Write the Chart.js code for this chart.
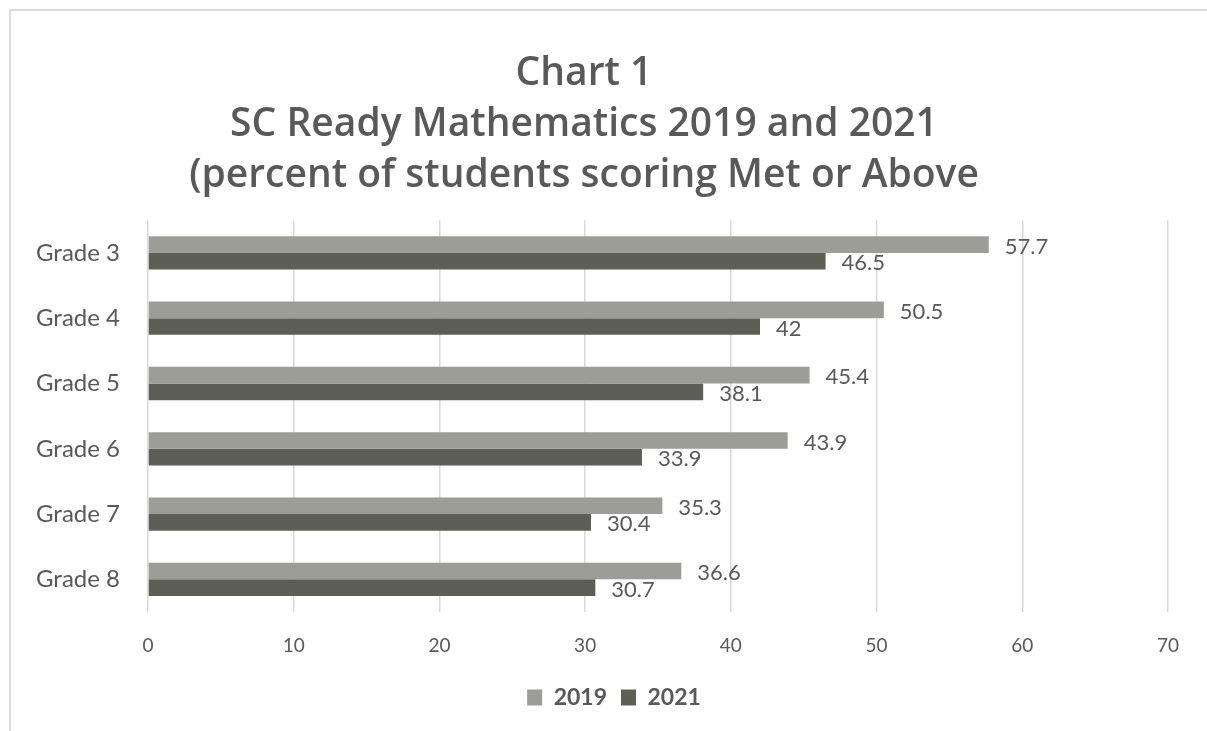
<!DOCTYPE html>
<html>
<head>
<meta charset="utf-8">
<script src="https://cdn.jsdelivr.net/npm/chart.js@4.4.1/dist/chart.umd.min.js"></script>
<style>
  html, body { margin: 0; padding: 0; background: #fff; overflow: hidden; }
  #frame {
    position: absolute; left: 9px; top: 9px; width: 1240px; height: 760px;
    border-top: 2px solid #dcdcdc; border-left: 2px solid #dcdcdc;
  }
  #wrap { position: absolute; left: 0; top: 0; width: 1207px; height: 731px; }
</style>
</head>
<body>
<div id="frame"></div>
<div id="wrap"><canvas id="gradeschart"></canvas></div>
<script>
const grades = ['Grade 3', 'Grade 4', 'Grade 5', 'Grade 6', 'Grade 7', 'Grade 8'];
const scores2019 = [57.7, 50.5, 45.4, 43.9, 35.3, 36.6];
const scores2021 = [46.5, 42, 38.1, 33.9, 30.4, 30.7];
const titleLines = ['Chart 1', 'SC Ready Mathematics 2019 and 2021', '(percent of students scoring Met or Above'];

const textGrey = '#595959';

// draw the value next to the end of each bar
const barValues = {
    id: 'barValues',
    afterDatasetsDraw(chart) {
        const ctx = chart.ctx;
        ctx.save();
        ctx.font = '22px Lato';
        ctx.fillStyle = textGrey;
        ctx.textBaseline = 'middle';
        ctx.textAlign = 'left';
        chart.data.datasets.forEach((ds, i) => {
            chart.getDatasetMeta(i).data.forEach((bar, j) => {
                ctx.fillText(String(ds.data[j]), bar.x + 16, bar.y + 2);
            });
        });
        ctx.restore();
    }
};

// legend sits a bit right of the plot centre in the original
const legendShift = {
    id: 'legendShift',
    afterLayout(chart) {
        chart.legend.left += 30;
        chart.legend.right += 30;
    }
};

const ctx = document.getElementById('gradeschart').getContext('2d');

const myChart = new Chart(ctx, {
    type: 'bar',
    data: {
        labels: grades,
        datasets: [
            {
                label: '2019',
                data: scores2019,
                backgroundColor: '#9d9d98',
                categoryPercentage: 0.51,
                barPercentage: 1.0,
            },
            {
                label: '2021',
                data: scores2021,
                backgroundColor: '#5d5f55',
                categoryPercentage: 0.51,
                barPercentage: 1.0,
            },
        ],
    },
    plugins: [barValues, legendShift],
    options: {
        indexAxis: 'y',
        responsive: true,
        maintainAspectRatio: false,
        animation: false,
        layout: {
            padding: { left: 0, right: 39, top: 20, bottom: 12 }
        },
        plugins: {
            title: {
                display: true,
                text: titleLines,
                color: textGrey,
                font: { family: 'Open Sans', size: 39, weight: '600', lineHeight: 1.31 },
                padding: { top: 28, bottom: 19 },
            },
            legend: {
                position: 'bottom',
                labels: {
                    color: textGrey,
                    boxWidth: 15,
                    boxHeight: 16,
                    padding: 14,
                    font: { family: 'Lato', size: 23, weight: 'bold' }
                }
            },
            tooltip: { enabled: false },
        },
        scales: {
            x: {
                min: 0,
                max: 70,
                ticks: {
                    stepSize: 10,
                    color: textGrey,
                    padding: 22,
                    font: { family: 'Lato', size: 19 }
                },
                grid: {
                    color: '#d9d9d9',
                    lineWidth: 1.5,
                    drawTicks: false,
                },
                border: { display: false },
                afterFit(scale) { scale.height = 60; },
            },
            y: {
                ticks: {
                    color: textGrey,
                    padding: 20,
                    font: { family: 'Lato', size: 24 }
                },
                grid: { display: false },
                border: { display: false },
                afterFit(scale) { scale.width = 148; },
            },
        },
    },
});
</script>
</body>
</html>
